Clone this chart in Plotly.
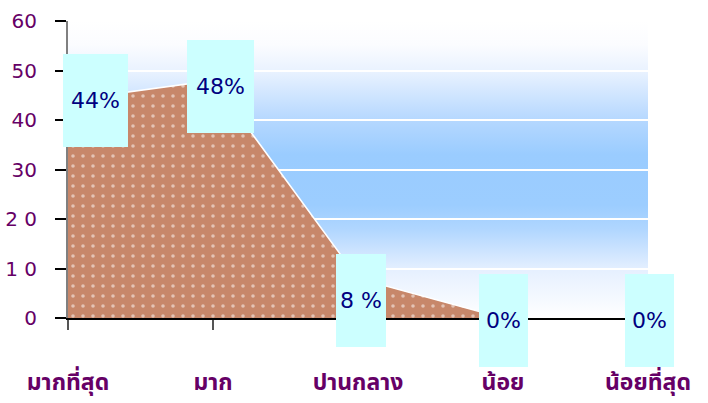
import base64
import plotly.graph_objects as go

categories = ["มากที่สุด", "มาก", "ปานกลาง", "น้อย", "น้อยที่สุด"]
values = [44, 48, 8, 0, 0]
labels = ["44%", "48%", "8 %", "0%", "0%"]
y_ticks = [0, 10, 20, 30, 40, 50, 60]
y_tick_text = ["0", "1 0", "2 0", "30", "40", "50", "60"]

xs = list(range(len(categories)))

# gradient background (SVG data URI)
svg = (
    '<svg xmlns="http://www.w3.org/2000/svg" width="10" height="300" preserveAspectRatio="none">'
    '<defs><linearGradient id="g" x1="0" y1="0" x2="0" y2="1">'
    '<stop offset="0" stop-color="#FFFFFF"/>'
    '<stop offset="0.08" stop-color="#FBFCFF"/>'
    '<stop offset="0.17" stop-color="#E9F2FF"/>'
    '<stop offset="0.33" stop-color="#B6D8FF"/>'
    '<stop offset="0.45" stop-color="#9ACCFF"/>'
    '<stop offset="0.62" stop-color="#9CCDFF"/>'
    '<stop offset="0.70" stop-color="#B0D6FF"/>'
    '<stop offset="0.84" stop-color="#E6F0FF"/>'
    '<stop offset="1" stop-color="#FFFFFF"/>'
    '</linearGradient></defs>'
    '<rect width="10" height="300" fill="url(#g)"/></svg>'
)
svg_uri = "data:image/svg+xml;base64," + base64.b64encode(svg.encode()).decode()

fig = go.Figure()
fig.add_trace(go.Scatter(
    x=xs, y=values, mode="lines", fill="tozeroy",
    line=dict(color="white", width=1.5),
    fillcolor="#C7876A",
    fillpattern=dict(shape=".", bgcolor="#C7876A", fgcolor="white",
                     size=10, solidity=0.1),
    hoverinfo="skip", showlegend=False,
))

box_w = [65, 67, 50, 49, 49]
x_shift = [27, 7, 3, 0, 1]
y_shift = [0, -6, -22, -2, -2]
for i, (v, t) in enumerate(zip(values, labels)):
    fig.add_annotation(
        x=xs[i], y=v, text=t, showarrow=False,
        xanchor="center", yanchor="middle",
        xshift=x_shift[i], yshift=y_shift[i],
        width=box_w[i], height=93, bgcolor="#CCFFFF",
        borderpad=0, borderwidth=0, valign="middle", align="center",
        font=dict(family="DejaVu Sans, Verdana, sans-serif", size=22, color="#000080"),
    )

fig.add_layout_image(dict(
    source=svg_uri, xref="x", yref="y", x=0, y=60, sizex=4, sizey=60,
    sizing="stretch", layer="below", xanchor="left", yanchor="top",
))

fig.update_layout(
    width=708, height=403,
    margin=dict(l=68, r=60, t=21, b=85, autoexpand=False),
    paper_bgcolor="white", plot_bgcolor="rgba(0,0,0,0)",
    showlegend=False,
    xaxis=dict(
        range=[0, 4], tickvals=xs, ticktext=[f"<b>{c}</b>" for c in categories],
        showgrid=False, zeroline=False, automargin=False,
        showline=True, linecolor="black", linewidth=1.5,
        ticks="outside", ticklen=10, tickcolor="#555555", tickwidth=1.5,
        ticklabelstandoff=33,
        tickfont=dict(family="Tahoma, Noto Sans Thai, sans-serif", size=23, color="#660066"),
    ),
    yaxis=dict(
        range=[0, 60], tickvals=y_ticks, ticktext=y_tick_text,
        showgrid=True, gridcolor="white", gridwidth=1.5,
        zeroline=False, automargin=False,
        showline=True, linecolor="#808080", linewidth=2,
        ticks="outside", ticklen=11, tickcolor="black", tickwidth=1.5,
        ticklabelstandoff=14,
        tickfont=dict(family="DejaVu Sans, Verdana, sans-serif", size=20, color="#660066"),
    ),
)

fig.write_html("out.html", config={"displayModeBar": False},
               post_script="document.body.style.margin='0';")
